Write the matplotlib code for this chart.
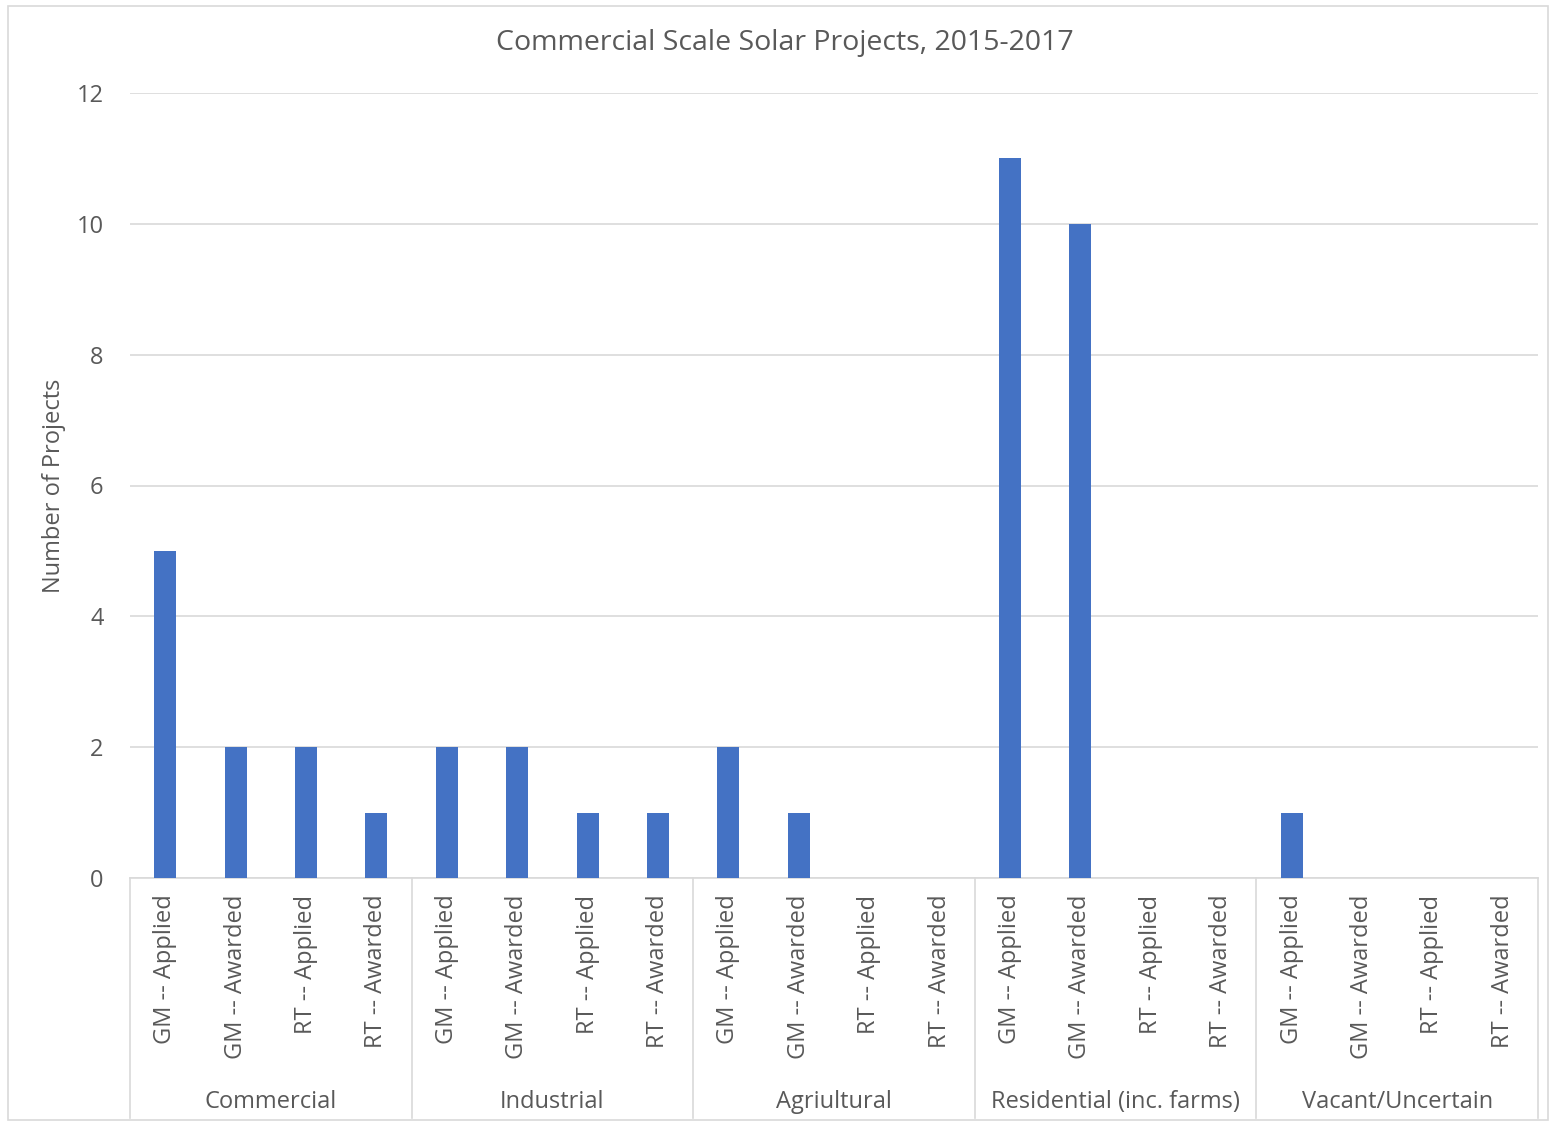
import matplotlib
matplotlib.use("Agg")
import matplotlib.pyplot as plt
import matplotlib.transforms as mtransforms
from matplotlib.patches import Rectangle

plt.rcParams['font.family'] = ['Open Sans', 'DejaVu Sans']

# data
groups = ['Commercial', 'Industrial', 'Agriultural', 'Residential (inc. farms)', 'Vacant/Uncertain']
sub_labels = ['GM -- Applied', 'GM -- Awarded', 'RT -- Applied', 'RT -- Awarded']
commercial = [5, 2, 2, 1]
industrial = [2, 2, 1, 1]
agricultural = [2, 1, 0, 0]
residential = [11, 10, 0, 0]
vacant = [1, 0, 0, 0]
y_ticks = [0, 2, 4, 6, 8, 10, 12]

values = commercial + industrial + agricultural + residential + vacant
labels = sub_labels * len(groups)
text_col = '#595959'
grid_col = '#D9D9D9'

W, H = 1554, 1125
fig = plt.figure(figsize=(W / 100, H / 100), dpi=100)
ax = fig.add_axes([130 / W, (H - 878) / H, 1408 / W, 785 / H])

x = list(range(len(values)))
ax.bar(x, values, width=0.31, color='#4472C4', zorder=3)

ax.set_xlim(-0.5, len(values) - 0.5)
ax.set_ylim(0, 12)
ax.set_yticks(y_ticks)
ax.grid(axis='y', color=grid_col, linewidth=1.2, zorder=0)
for s in ['top', 'right', 'left']:
    ax.spines[s].set_visible(False)
ax.spines['bottom'].set_color(grid_col)
ax.spines['bottom'].set_linewidth(1.2)
ax.tick_params(axis='y', length=0, pad=19, labelsize=17, labelcolor=text_col)
ax.set_xticks(x)
ax.set_xticklabels(labels, rotation=90, va='top', ha='center')
ax.tick_params(axis='x', length=0, pad=12, labelsize=17, labelcolor=text_col)

# group separators and labels
sep_bottom = -(1118 - 878) / 785
trans = mtransforms.blended_transform_factory(ax.transData, ax.transAxes)
n_sub = len(sub_labels)
for i in range(len(groups) + 1):
    xs = i * n_sub - 0.5
    ax.plot([xs, xs], [0, sep_bottom], transform=trans, color=grid_col,
            linewidth=1.2, clip_on=False)
for i, g in enumerate(groups):
    xc = i * n_sub + (n_sub - 1) / 2
    ax.text(xc, -(1102 - 878) / 785, g, transform=trans, ha='center', va='center',
            fontsize=17, color=text_col)

ax.set_ylabel('Number of Projects', fontsize=17, color=text_col)
ax.yaxis.set_label_coords(-(130 - 66) / 1408, 0.5)
fig.text(785 / W, 1 - 43 / H, 'Commercial Scale Solar Projects, 2015-2017',
         ha='center', va='center', fontsize=20.5, color=text_col)

fig.patches.append(Rectangle((8 / W, 5 / H), 1540 / W, 1114 / H, transform=fig.transFigure,
                             fill=False, edgecolor=grid_col, linewidth=1.2))

fig.savefig('out.png', dpi=100)
